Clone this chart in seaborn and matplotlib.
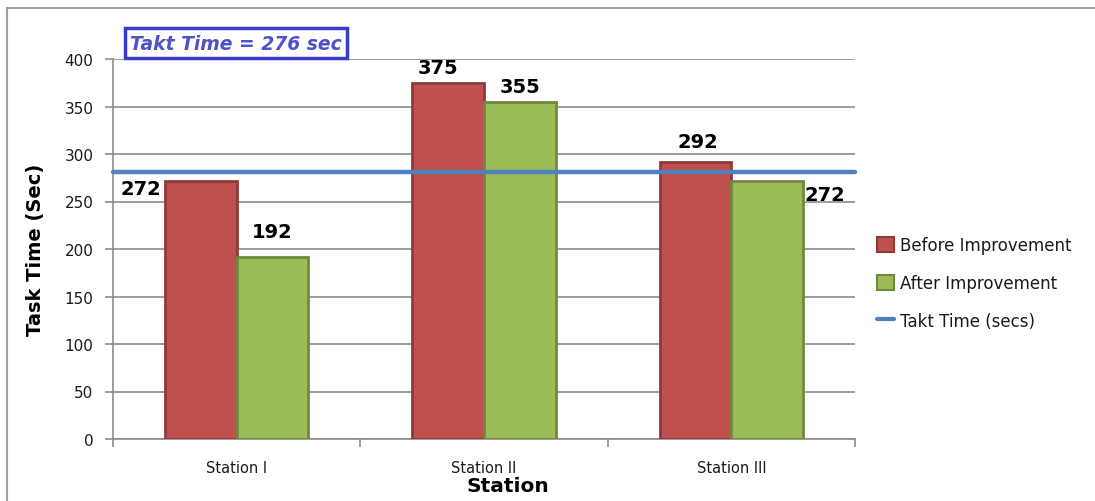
import matplotlib
matplotlib.use("Agg")
import matplotlib.pyplot as plt
import seaborn as sns
import pandas as pd
from matplotlib.patches import Patch
from matplotlib.lines import Line2D

stations = ["Station I", "Station II", "Station III"]
before = [272, 375, 292]
after = [192, 355, 272]
series_names = ["Before Improvement", "After Improvement"]
takt_value = 281
takt_label = "Takt Time = 276 sec"
y_ticks = [0, 50, 100, 150, 200, 250, 300, 350, 400]

df = pd.DataFrame({
    "Station": stations * 2,
    "Condition": [series_names[0]] * 3 + [series_names[1]] * 3,
    "Value": before + after,
})

sns.set_style("white")
plt.rcParams["font.family"] = ["DejaVu Sans"]

fill_colors = ["#C0504D", "#9BBB59"]
edge_colors = ["#8E3A38", "#71893F"]
grid_c = "#8C8C8C"

fig = plt.figure(figsize=(10.95, 5.02), dpi=100)
ax = fig.add_axes([113 / 1095, 62 / 502, (855 - 113) / 1095, (441 - 61) / 502])

sns.barplot(data=df, x="Station", y="Value", hue="Condition",
            hue_order=series_names, palette=fill_colors, width=0.58,
            linewidth=2, ax=ax, legend=False, saturation=1)
for cont, ec in zip(ax.containers, edge_colors):
    for p in cont:
        p.set_edgecolor(ec)
        p.set_zorder(3)

ax.set_ylim(0, 400)
ax.set_xlim(-0.5, 2.5)
ax.set_yticks(y_ticks)
ax.yaxis.grid(True, color=grid_c, linewidth=1.2)
ax.set_axisbelow(True)
for s in ["top", "right"]:
    ax.spines[s].set_visible(False)
for s in ["left", "bottom"]:
    ax.spines[s].set_color(grid_c)
    ax.spines[s].set_linewidth(1.2)
ax.tick_params(axis="y", direction="out", length=6, color=grid_c, width=1.2,
               left=True, labelsize=11, labelcolor="#1a1a1a", pad=8)
ax.tick_params(axis="x", which="major", length=0, labelsize=10.5, pad=15,
               labelcolor="#1a1a1a")
ax.set_xticks([-0.5, 0.5, 1.5, 2.5], minor=True)
ax.tick_params(axis="x", which="minor", direction="out", length=6,
               color=grid_c, width=1.2, bottom=True)

ax.axhline(takt_value, color="#4F81BD", linewidth=3.2, zorder=4, clip_on=False)

ax.set_ylabel("Task Time (Sec)", fontsize=14, fontweight="bold", labelpad=14,
              color="black")
ax.set_xlabel("Station", fontsize=14.5, fontweight="bold", color="black")
ax.xaxis.set_label_coords(0.532, -0.097)

lab_kw = dict(fontsize=14, fontweight="bold", color="black", zorder=6)
off = 0.145
ax.text(0 - off - 0.16, before[0] - 8, str(before[0]), ha="right", va="center", **lab_kw)
ax.text(0 + off, after[0] + 26, str(after[0]), ha="center", va="center", **lab_kw)
ax.text(1 - off - 0.04, before[1] + 16, str(before[1]), ha="center", va="center", **lab_kw)
ax.text(1 + off, after[1] + 16, str(after[1]), ha="center", va="center", **lab_kw)
ax.text(2 - off + 0.01, before[2] + 21, str(before[2]), ha="center", va="center", **lab_kw)
ax.text(2 + off + 0.15, after[2] - 15, str(after[2]), ha="left", va="center", **lab_kw)

# Takt label box
fig.text(236 / 1095, 1 - 44 / 502, takt_label, ha="center", va="center",
         fontsize=13.5, fontstyle="italic", fontweight="bold", color="#5050C8",
         bbox=dict(boxstyle="square,pad=0.28", facecolor="white",
                   edgecolor="#3B3BCC", linewidth=2.5), zorder=10)

handles = [Patch(facecolor=fill_colors[0], edgecolor=edge_colors[0], linewidth=1.5),
           Patch(facecolor=fill_colors[1], edgecolor=edge_colors[1], linewidth=1.5),
           Line2D([0], [0], color="#4F81BD", linewidth=3)]
fig.legend(handles, series_names + ["Takt Time (secs)"], loc="center left",
           bbox_to_anchor=(862 / 1095, 1 - 284 / 502), frameon=False,
           fontsize=12, handlelength=1.0, handleheight=1.0, handletextpad=0.4,
           labelspacing=1.2, labelcolor="#1a1a1a")

# outer chart frame
fig.add_artist(Line2D([7 / 1095, 1.0], [1 - 9 / 502, 1 - 9 / 502],
                      transform=fig.transFigure, color="#A0A0A0", linewidth=1.5))
fig.add_artist(Line2D([7 / 1095, 7 / 1095], [0, 1 - 9 / 502],
                      transform=fig.transFigure, color="#A0A0A0", linewidth=1.5))

fig.savefig("out.png", dpi=100, facecolor="white")
